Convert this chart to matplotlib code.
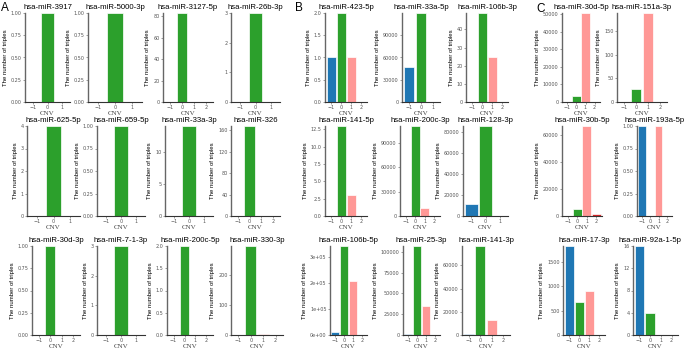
import matplotlib
matplotlib.use('Agg')
import matplotlib.pyplot as plt

# Datos: número de tripletas por estado CNV (-1, 0, 1, 2) para cada miRNA
mirnas = [
    'hsa-miR-3917', 'hsa-miR-5000-3p', 'hsa-miR-3127-5p', 'hsa-miR-26b-3p',
    'hsa-miR-423-5p', 'hsa-miR-33a-5p', 'hsa-miR-106b-3p',
    'hsa-miR-30d-5p', 'hsa-miR-151a-3p',
    'hsa-miR-625-5p', 'hsa-miR-659-5p', 'hsa-miR-33a-3p', 'hsa-miR-326',
    'hsa-miR-141-5p', 'hsa-miR-200c-3p', 'hsa-miR-128-3p',
    'hsa-miR-30b-5p', 'hsa-miR-193a-5p',
    'hsa-miR-30d-3p', 'hsa-miR-7-1-3p', 'hsa-miR-200c-5p', 'hsa-miR-330-3p',
    'hsa-miR-106b-5p', 'hsa-miR-25-3p', 'hsa-miR-141-3p',
    'hsa-miR-17-3p', 'hsa-miR-92a-1-5p',
]
# último estado CNV mostrado en el eje x
cnv_max = [1, 1, 2, 1, 2, 1, 2, 2, 2,
           1, 1, 1, 2, 2, 2, 1, 2, 2,
           2, 1, 2, 2, 2, 2, 2, 2, 2]
counts = [
    [0, 1, 0, 0], [0, 1, 0, 0], [0, 83, 0, 0], [0, 3, 0, 0],
    [1, 2, 1, 0], [47000, 120000, 0, 0], [0, 49, 25, 0],
    [0, 3300, 50500, 0], [0, 27, 188, 1],
    [0, 4, 0, 0], [0, 1, 0, 0], [0, 14, 0, 0], [0, 168, 0, 0],
    [0, 13, 3, 0], [0, 110500, 9500, 0], [11800, 85500, 0, 0],
    [0, 5000, 66500, 1300], [1, 0, 1, 0],
    [0, 1, 0, 0], [0, 3, 0, 0], [0, 2, 0, 0], [0, 295, 2, 1],
    [13000, 344000, 208000, 0], [800, 107000, 35300, 0], [600, 76600, 12800, 0],
    [1830, 670, 910, 0], [16, 4, 0, 0],
]
frac4 = ['0.00', '0.25', '0.50', '0.75', '1.00']
yticks = [
    [0, .25, .5, .75, 1], [0, .25, .5, .75, 1], [0, 20, 40, 60, 80], [0, 1, 2, 3],
    [0, .5, 1, 1.5, 2], [0, 30000, 60000, 90000], [0, 10, 20, 30, 40],
    [0, 10000, 20000, 30000, 40000, 50000], [0, 50, 100, 150],
    [0, 1, 2, 3, 4], [0, .25, .5, .75, 1], [0, 5, 10], [0, 40, 80, 120, 160],
    [0, 2.5, 5, 7.5, 10, 12.5], [0, 30000, 60000, 90000], [0, 20000, 40000, 60000, 80000],
    [0, 20000, 40000, 60000], [0, .25, .5, .75, 1],
    [0, .25, .5, .75, 1], [0, 1, 2, 3], [0, .5, 1, 1.5, 2], [0, 100, 200],
    [0, 1e5, 2e5, 3e5], [0, 25000, 50000, 75000, 100000], [0, 20000, 40000, 60000],
    [0, 500, 1000, 1500], [0, 4, 8, 12, 16],
]
ytick_labels = [
    frac4, frac4, ['0', '20', '40', '60', '80'], ['0', '1', '2', '3'],
    ['0.0', '0.5', '1.0', '1.5', '2.0'], ['0', '30000', '60000', '90000'],
    ['0', '10', '20', '30', '40'],
    ['0', '10000', '20000', '30000', '40000', '50000'], ['0', '50', '100', '150'],
    ['0', '1', '2', '3', '4'], frac4, ['0', '5', '10'], ['0', '40', '80', '120', '160'],
    ['0.0', '2.5', '5.0', '7.5', '10.0', '12.5'], ['0', '30000', '60000', '90000'],
    ['0', '20000', '40000', '60000', '80000'],
    ['0', '20000', '40000', '60000'], frac4,
    frac4, ['0', '1', '2', '3'], ['0.0', '0.5', '1.0', '1.5', '2.0'], ['0', '100', '200'],
    ['0e+00', '1e+05', '2e+05', '3e+05'], ['0', '25000', '50000', '75000', '100000'],
    ['0', '20000', '40000', '60000'],
    ['0', '500', '1000', '1500'], ['0', '4', '8', '12', '16'],
]
panel_letters = ['A', 'B', 'C']

# Colores por estado CNV
cnv_colors = {-1: '#1f77b4', 0: '#2ca02c', 1: '#ff9896', 2: '#d62728'}

# Posición de cada panel en píxeles (izquierda, derecha) y filas (arriba, abajo)
W, H = 685, 350
cols_px = [
    (25, 70), (88, 142), (163, 213), (231, 280), (325, 367), (402, 440), (466, 508), (562, 600), (617, 667),
    (27, 80), (97, 145), (165, 213), (231, 280), (325, 367), (400, 440), (463, 508), (562, 602), (637, 672),
    (32, 80), (97, 145), (167, 213), (231, 283), (330, 367), (403, 440), (462, 510), (563, 605), (633, 678),
]
rows_px = [(13, 102), (126, 216), (246, 335)]
letter_pos = [(1, 11), (295, 11), (536, 12)]

fig = plt.figure(figsize=(W / 100, H / 100), dpi=100)

for i, name in enumerate(mirnas):
    l, r = cols_px[i]
    t, b = rows_px[i // 9]
    ax = fig.add_axes([l / W, 1 - b / H, (r - l) / W, (b - t) / H])
    cats = list(range(-1, cnv_max[i] + 1))
    vals = counts[i][:len(cats)]
    ax.bar(cats, vals, width=0.9, color=[cnv_colors[c] for c in cats],
           edgecolor='white', linewidth=0.5)
    ax.set_xlim(-1.6, cnv_max[i] + 0.6)
    ax.set_ylim(0, max(vals))
    ax.set_xticks(cats)
    ax.set_yticks(yticks[i])
    ax.set_yticklabels(ytick_labels[i])
    for s in ['top', 'right']:
        ax.spines[s].set_visible(False)
    ax.spines['left'].set_color('#666666')
    ax.spines['left'].set_linewidth(1.0)
    ax.spines['bottom'].set_color('#333333')
    ax.spines['bottom'].set_linewidth(0.8)
    ax.tick_params(labelsize=3.5, colors='#777777', labelcolor='#555555',
                   length=1.5, width=0.5, pad=1)
    ax.set_xlabel('CNV', family='Liberation Serif', fontsize=5, color='#444444', labelpad=0.5)
    if i != 3:
        ax.set_ylabel('The number of triples', family='Liberation Sans', fontsize=4.3, labelpad=2)
    # el último título se desplaza un poco para no salirse de la figura
    title_x = 0.5 if i != 26 else 0.38
    ax.set_title(name, family='Liberation Sans', fontsize=5.6, pad=3, x=title_x)

# Letras de los paneles
for letter, (x, y) in zip(panel_letters, letter_pos):
    fig.text(x / W, 1 - y / H, letter, family='Liberation Sans', fontsize=8.5, va='baseline')

fig.savefig('out.png', dpi=100)
